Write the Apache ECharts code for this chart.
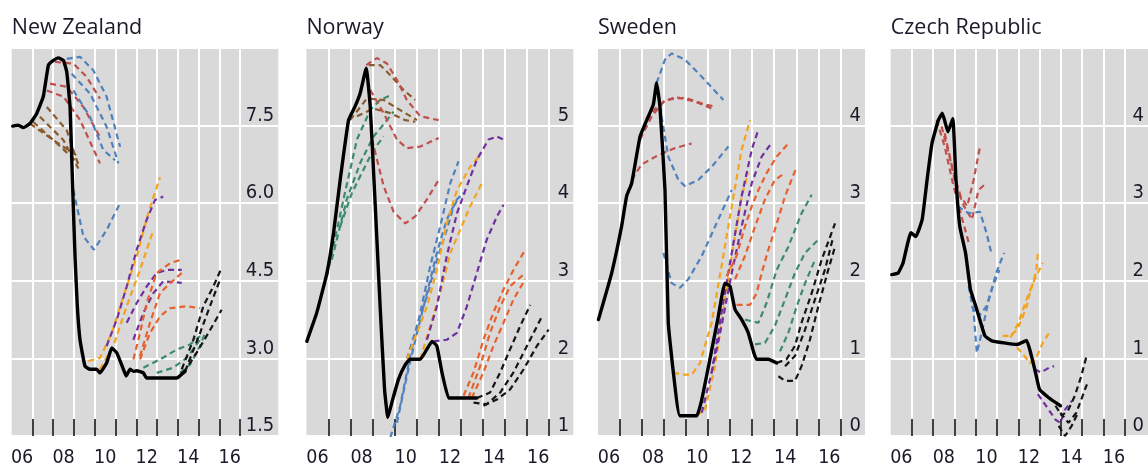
<!DOCTYPE html>
<html>
<head>
<meta charset="utf-8">
<script src="https://cdn.jsdelivr.net/npm/echarts@6/dist/echarts.min.js"></script>
<style>
  html, body { margin: 0; padding: 0; background: #ffffff; }
  #chart { width: 1148px; height: 468px; }
</style>
</head>
<body>
<div id="chart"></div>
<script>
// Policy rates (solid) and published rate-path forecasts (dashed), per cent.
// Every point is [year, rate].

// ---- x-axis ticks and labels (shared by all four panels)
const tickYears = [2007, 2008, 2009, 2010, 2011, 2012, 2013, 2014, 2015, 2016, 2017];
const labelYears = [2006.5, 2008.5, 2010.5, 2012.5, 2014.5, 2016.5];
const yearLabels = ['06', '08', '10', '12', '14', '16'];

// ---- New Zealand
const nzPolicy = [[2006.05,7.49],[2006.32,7.51],[2006.56,7.46],[2006.88,7.54],[2007.20,7.73],[2007.52,8.06],[2007.77,8.67],[2008.01,8.76],[2008.25,8.81],[2008.49,8.76],[2008.65,8.54],[2008.81,7.86],[2008.94,6.26],[2009.05,4.97],[2009.16,4.01],[2009.29,3.36],[2009.53,2.85],[2009.77,2.79],[2010.09,2.79],[2010.25,2.72],[2010.57,2.91],[2010.82,3.20],[2011.06,3.11],[2011.38,2.79],[2011.51,2.66],[2011.70,2.79],[2011.86,2.75],[2012.02,2.76],[2012.34,2.72],[2012.50,2.62],[2013.95,2.62],[2014.20,2.70],[2014.35,2.75]];
const nzBrown = [
  [[2006.88,7.54],[2008.01,7.22],[2009.21,6.90]],
  [[2007.04,7.57],[2008.17,7.16],[2009.21,6.77]],
  [[2007.36,7.67],[2008.49,7.22],[2009.21,6.67]],
  [[2007.69,7.86],[2008.65,7.41],[2009.21,6.74]]
];
const nzRed = [
  [[2008.09,8.73],[2008.97,8.70],[2009.61,8.44],[2010.25,8.02]],
  [[2007.85,8.31],[2008.65,8.25],[2009.45,7.86],[2010.25,7.28]],
  [[2007.69,8.18],[2008.49,8.06],[2009.29,7.61],[2010.25,6.77]]
];
const nzBlue = [
  [[2008.65,8.79],[2009.29,8.83],[2009.93,8.57],[2010.57,8.06],[2011.22,7.09]],
  [[2008.89,8.50],[2009.77,8.12],[2010.57,7.48],[2011.14,6.77]],
  [[2008.97,8.18],[2009.77,7.67],[2010.41,7.03],[2010.98,6.83]],
  [[2008.97,6.26],[2009.45,5.36],[2009.96,5.10],[2010.57,5.48],[2011.22,6.00]]
];
const nzGold = [
  [[2009.69,2.95],[2010.25,3.01],[2010.82,3.49],[2011.38,4.20],[2012.02,4.97],[2012.58,5.81],[2013.14,6.50]],
  [[2010.25,2.79],[2010.90,3.24],[2011.54,4.01],[2012.18,4.71],[2012.82,5.48]]
];
const nzPurple = [
  [[2010.57,3.24],[2011.06,3.75],[2011.54,4.39],[2012.02,5.10],[2012.50,5.68],[2012.90,6.06],[2013.30,6.13]],
  [[2011.54,3.69],[2012.02,4.07],[2012.50,4.39],[2012.98,4.65],[2013.46,4.71],[2014.19,4.71]],
  [[2011.86,3.36],[2012.34,3.88],[2012.82,4.26],[2013.30,4.49],[2014.19,4.46]]
];
const nzOrange = [
  [[2011.86,2.98],[2012.18,3.49],[2012.50,4.07],[2012.98,4.65],[2013.62,4.84],[2014.19,4.91]],
  [[2012.18,3.04],[2012.66,3.69],[2013.14,4.26],[2013.62,4.45],[2014.19,4.65]],
  [[2012.18,2.98],[2012.66,3.49],[2013.14,3.81],[2013.62,3.97],[2014.43,4.01],[2015.07,3.97]]
];
const nzGreen = [
  [[2012.34,2.82],[2013.14,2.98],[2013.95,3.17],[2014.59,3.27],[2015.07,3.43]],
  [[2012.98,2.72],[2013.78,2.82],[2014.43,3.01],[2015.07,3.36]],
  [[2014.11,2.72],[2014.59,2.88],[2015.07,3.24],[2015.31,3.49]]
];
const nzBlack = [
  [[2014.19,2.79],[2014.75,3.36],[2015.23,4.01],[2015.71,4.39],[2016.11,4.75]],
  [[2014.27,2.72],[2014.91,3.11],[2015.47,3.49],[2016.11,3.94]],
  [[2014.35,2.75],[2015.07,3.49],[2015.55,4.01],[2016.03,4.52]]
];

// ---- Norway
const noPolicy = [[2006.02,2.22],[2006.47,2.59],[2006.93,3.10],[2007.23,3.62],[2007.53,4.30],[2007.91,5.07],[2008.21,5.25],[2008.44,5.42],[2008.71,5.74],[2008.89,5.25],[2009.12,3.96],[2009.34,2.67],[2009.54,1.60],[2009.69,1.24],[2009.87,1.43],[2010.17,1.73],[2010.48,1.92],[2010.70,1.99],[2011.16,1.99],[2011.46,2.12],[2011.69,2.22],[2011.91,2.16],[2012.14,1.82],[2012.44,1.49],[2012.67,1.49],[2013.72,1.49]];
const noGreen = [
  [[2006.93,3.06],[2007.68,4.05],[2008.29,4.82],[2008.89,5.20],[2009.34,5.33],[2009.87,5.40]],
  [[2007.15,3.27],[2007.83,4.05],[2008.44,4.52],[2009.04,4.86],[2009.65,5.07],[2009.95,5.18]],
  [[2007.53,3.70],[2008.06,4.13],[2008.51,4.39],[2009.04,4.69],[2009.50,4.86]]
];
const noBrown = [
  [[2007.98,5.07],[2008.74,5.35],[2009.50,5.33],[2010.25,5.20],[2011.01,5.07]],
  [[2008.82,5.78],[2009.34,5.78],[2009.80,5.65],[2010.40,5.46],[2010.93,5.33]],
  [[2008.29,5.12],[2009.04,5.22],[2009.80,5.16],[2010.48,5.07],[2010.93,5.05]]
];
const noRed = [
  [[2008.71,5.78],[2009.19,5.87],[2009.65,5.80],[2010.10,5.59],[2010.55,5.33],[2011.16,5.12],[2011.99,5.07]],
  [[2008.89,5.46],[2009.50,5.16],[2010.10,4.82],[2010.55,4.71],[2011.16,4.73],[2011.99,4.84]],
  [[2008.97,4.82],[2009.50,4.22],[2009.95,3.89],[2010.48,3.74],[2010.93,3.83],[2011.46,4.05],[2011.99,4.30]]
];
const noBlue = [
  [[2009.80,0.98],[2010.25,1.39],[2010.70,2.03],[2011.16,2.59],[2011.61,3.19],[2012.06,3.70],[2012.52,4.26],[2012.89,4.54]],
  [[2010.10,1.17],[2010.55,1.77],[2011.01,2.33],[2011.46,2.84],[2011.91,3.36],[2012.36,3.79],[2012.82,4.05],[2013.12,4.13]],
  [[2010.55,1.99],[2011.01,2.42],[2011.46,2.80],[2011.91,3.27],[2012.36,3.66],[2012.67,3.96],[2012.97,4.09]]
];
const noGold = [
  [[2010.55,1.99],[2011.01,2.33],[2011.46,2.67],[2011.91,3.14],[2012.36,3.74],[2012.82,4.17],[2013.42,4.47],[2013.87,4.62]],
  [[2011.16,1.99],[2011.61,2.42],[2012.06,2.84],[2012.52,3.36],[2012.97,3.66],[2013.42,3.96],[2013.95,4.26]]
];
const noPurple = [
  [[2011.46,2.24],[2011.91,2.67],[2012.36,3.32],[2012.82,3.87],[2013.27,4.22],[2013.72,4.56],[2014.25,4.82],[2014.63,4.86],[2014.93,4.82]],
  [[2011.76,2.22],[2012.36,2.24],[2012.82,2.33],[2013.27,2.67],[2013.72,3.10],[2014.17,3.53],[2014.63,3.83],[2014.93,3.98]]
];
const noOrange = [
  [[2013.12,1.52],[2013.57,1.82],[2014.02,2.24],[2014.47,2.59],[2014.93,2.89],[2015.38,3.14],[2015.91,3.40]],
  [[2013.34,1.49],[2013.87,1.90],[2014.32,2.33],[2014.78,2.67],[2015.23,2.93],[2015.91,3.10]],
  [[2013.49,1.49],[2014.02,1.82],[2014.47,2.16],[2014.93,2.46],[2015.38,2.76],[2015.91,3.02]]
];
const noBlack = [
  [[2013.72,1.49],[2014.32,1.56],[2014.78,1.82],[2015.23,2.12],[2015.69,2.42],[2016.14,2.69]],
  [[2013.57,1.43],[2014.17,1.41],[2014.78,1.56],[2015.38,1.82],[2015.99,2.16],[2016.67,2.54]],
  [[2014.02,1.39],[2014.63,1.47],[2015.23,1.60],[2015.84,1.86],[2016.44,2.16],[2016.97,2.37]]
];

// ---- Sweden
const sePolicy = [[2006.02,1.50],[2006.62,2.10],[2007.07,2.70],[2007.30,3.09],[2007.53,3.26],[2007.91,3.86],[2008.21,4.07],[2008.51,4.27],[2008.66,4.55],[2008.81,4.25],[2009.04,3.17],[2009.19,1.46],[2009.42,0.82],[2009.72,0.26],[2010.48,0.26],[2010.71,0.47],[2011.08,0.99],[2011.46,1.54],[2011.76,1.97],[2011.99,1.93],[2012.22,1.63],[2012.52,1.50],[2012.82,1.33],[2013.20,0.99],[2013.73,0.99],[2014.11,0.94]];
const seRed = [
  [[2007.91,3.82],[2008.44,4.12],[2009.04,4.33],[2009.95,4.36],[2010.86,4.27],[2011.24,4.25]],
  [[2008.21,4.07],[2008.74,4.27],[2009.50,4.37],[2010.40,4.31],[2011.16,4.22]],
  [[2007.53,3.30],[2007.98,3.50],[2008.74,3.62],[2009.50,3.71],[2010.25,3.77]]
];
const seBlue = [
  [[2008.66,4.55],[2009.04,4.85],[2009.34,4.93],[2009.95,4.85],[2010.71,4.63],[2011.69,4.33]],
  [[2008.81,4.25],[2009.19,3.60],[2009.65,3.30],[2009.95,3.22],[2010.55,3.30],[2011.16,3.47],[2011.92,3.73]],
  [[2008.97,2.36],[2009.34,1.97],[2009.72,1.91],[2010.10,2.02],[2010.71,2.32],[2011.46,2.79],[2012.07,3.17]]
];
const seGold = [
  [[2009.42,0.82],[2009.80,0.79],[2010.25,0.79],[2010.63,0.94],[2011.16,1.46],[2011.61,2.19],[2012.07,2.96],[2012.52,3.69],[2012.90,4.07]],
  [[2010.46,0.26],[2010.86,0.34],[2011.31,0.90],[2011.76,1.76],[2012.14,2.44],[2012.52,3.09],[2012.82,3.39]]
];
const sePurple = [
  [[2010.71,0.30],[2011.16,0.82],[2011.61,1.59],[2012.07,2.36],[2012.52,3.09],[2012.98,3.69],[2013.28,3.95]],
  [[2011.16,0.82],[2011.61,1.42],[2012.07,2.10],[2012.52,2.70],[2012.98,3.26],[2013.43,3.60],[2013.81,3.75]]
];
const seOrange = [
  [[2011.84,2.06],[2012.29,2.32],[2012.67,2.70],[2012.98,2.96],[2013.28,3.17],[2013.66,3.39],[2014.11,3.60],[2014.64,3.77]],
  [[2012.22,2.02],[2012.67,2.32],[2013.13,2.70],[2013.58,3.05],[2014.03,3.30],[2014.49,3.39]],
  [[2012.29,1.69],[2012.90,1.69],[2013.20,1.84],[2013.43,2.10],[2013.73,2.40],[2014.03,2.66],[2014.49,3.09],[2015.02,3.47]]
];
const seGreen = [
  [[2012.67,1.50],[2013.28,1.46],[2013.66,1.72],[2014.11,2.14],[2014.64,2.44],[2015.24,2.87],[2015.70,3.11]],
  [[2013.13,1.18],[2013.58,1.20],[2014.03,1.42],[2014.49,1.76],[2014.94,2.10],[2015.40,2.36],[2016.00,2.53]],
  [[2014.26,1.09],[2014.64,1.33],[2015.02,1.67],[2015.40,1.97],[2015.85,2.27]]
];
const seBlack = [
  [[2014.11,0.94],[2014.56,0.99],[2014.94,1.16],[2015.24,1.46],[2015.70,1.84],[2016.15,2.27],[2016.76,2.74]],
  [[2014.19,0.77],[2014.49,0.71],[2014.94,0.71],[2015.24,0.90],[2015.62,1.24],[2016.00,1.67],[2016.45,2.14],[2016.76,2.44]],
  [[2014.49,0.90],[2014.94,1.03],[2015.40,1.37],[2015.85,1.76],[2016.30,2.14],[2016.68,2.57]]
];

// ---- Czech Republic
const czPolicy = [[2006.05,2.08],[2006.35,2.10],[2006.58,2.23],[2006.95,2.62],[2007.18,2.57],[2007.48,2.79],[2007.71,3.30],[2007.94,3.77],[2008.24,4.07],[2008.43,4.16],[2008.69,3.92],[2008.92,4.09],[2009.07,3.30],[2009.25,2.70],[2009.52,2.36],[2009.75,1.89],[2010.05,1.63],[2010.43,1.29],[2010.73,1.23],[2011.33,1.20],[2011.94,1.18],[2012.39,1.23],[2012.62,1.03],[2012.85,0.77],[2013.00,0.60],[2013.45,0.49],[2013.98,0.39]];
const czRed = [
  [[2008.16,4.07],[2008.54,3.73],[2008.92,3.26],[2009.29,2.87],[2009.67,2.49]],
  [[2008.39,3.99],[2008.77,3.60],[2009.07,3.22],[2009.45,2.96],[2009.82,2.79],[2010.13,3.17],[2010.50,3.26]],
  [[2008.54,3.90],[2008.92,3.43],[2009.29,3.09],[2009.60,2.96],[2009.90,3.30],[2010.20,3.73]]
];
const czBlue = [
  [[2009.14,2.96],[2009.67,2.87],[2010.20,2.89],[2010.50,2.62],[2010.73,2.36]],
  [[2009.67,1.93],[2009.90,1.59],[2010.05,1.07],[2010.28,1.33],[2010.58,1.72],[2010.96,2.10],[2011.33,2.36]],
  [[2009.82,1.67],[2010.13,1.54],[2010.50,1.67],[2010.80,1.93],[2011.11,2.14]]
];
const czGold = [
  [[2011.26,1.29],[2011.64,1.29],[2011.94,1.37],[2012.16,1.50],[2012.39,1.67],[2012.54,1.84],[2012.69,1.97],[2012.85,2.14],[2012.92,2.36]],
  [[2011.64,1.27],[2012.01,1.46],[2012.39,1.76],[2012.77,2.02],[2013.15,2.23]],
  [[2011.94,1.14],[2012.24,1.05],[2012.54,0.94],[2012.85,1.01],[2013.15,1.20],[2013.45,1.33]]
];
const czPurple = [
  [[2012.77,0.86],[2013.07,0.82],[2013.45,0.88],[2013.68,0.90]],
  [[2012.92,0.54],[2013.30,0.39],[2013.75,0.21],[2013.98,0.17],[2014.20,0.34],[2014.51,0.45]]
];
const czBlack = [
  [[2013.75,0.39],[2014.05,0.26],[2014.36,0.34],[2014.66,0.52],[2014.96,0.77],[2015.19,1.01]],
  [[2013.98,0.30],[2014.36,0.17],[2014.73,0.30],[2015.03,0.52],[2015.26,0.69]],
  [[2013.90,0.13],[2014.20,0.00],[2014.51,0.13],[2014.81,0.30]]
];

// ---- styling
const palette = {
  brown: '#8a5a2c', red: '#c0504d', blue: '#4f81bd', gold: '#f5a21c',
  purple: '#7030a0', orange: '#e8612c', green: '#3c8c6c', black: '#151515'
};
const labelFont = "'Liberation Sans Narrow', 'DejaVu Sans Condensed', 'Liberation Sans', sans-serif";
const titleFont = "'Open Sans', 'Noto Sans', 'Liberation Sans', sans-serif";
const textColor = '#1a1a28';

const panels = [
  { name: 'New Zealand', left: 11.7, width: 266.6, xMax: 2018.84, yMin: 1.5, yMax: 9, yStep: 1.5, digits: 1,
    policy: nzPolicy,
    paths: [['brown', nzBrown], ['red', nzRed], ['blue', nzBlue], ['gold', nzGold], ['purple', nzPurple], ['orange', nzOrange], ['green', nzGreen], ['black', nzBlack]] },
  { name: 'Norway', left: 306.4, width: 266.9, xMax: 2018.09, yMin: 1, yMax: 6, yStep: 1, digits: 0,
    policy: noPolicy,
    paths: [['green', noGreen], ['brown', noBrown], ['red', noRed], ['blue', noBlue], ['gold', noGold], ['purple', noPurple], ['orange', noOrange], ['black', noBlack]] },
  { name: 'Sweden', left: 598, width: 267, xMax: 2018.12, yMin: 0, yMax: 5, yStep: 1, digits: 0,
    policy: sePolicy,
    paths: [['red', seRed], ['blue', seBlue], ['gold', seGold], ['purple', sePurple], ['orange', seOrange], ['green', seGreen], ['black', seBlack]] },
  { name: 'Czech Republic', left: 890.7, width: 267, xMax: 2018.1, yMin: 0, yMax: 5, yStep: 1, digits: 0,
    policy: czPolicy,
    paths: [['red', czRed], ['blue', czBlue], ['gold', czGold], ['purple', czPurple], ['black', czBlack]] }
];

const grid = [], xAxis = [], yAxis = [], title = [], series = [];

panels.forEach((p, i) => {
  grid.push({
    left: p.left, top: 48, width: p.width, height: 389,
    show: true, backgroundColor: '#d9d9d9', borderWidth: 0
  });
  title.push({
    text: p.name, left: p.left, top: 17, padding: 0,
    textStyle: { fontFamily: titleFont, fontSize: 21.5, fontWeight: 'normal', color: textColor }
  });
  xAxis.push({
    type: 'value', gridIndex: i, min: 2006, max: p.xMax,
    axisLine: { show: false },
    axisTick: { show: true, inside: true, length: 17, customValues: tickYears,
                lineStyle: { color: '#111111', width: 1.6 } },
    splitLine: { show: true, lineStyle: { color: '#ffffff', width: 2 } },
    axisLabel: {
      customValues: labelYears, margin: 12,
      formatter: v => yearLabels[labelYears.indexOf(v)] || '',
      fontFamily: labelFont, fontSize: 19.5, color: textColor
    }
  });
  yAxis.push({
    type: 'value', gridIndex: i, position: 'right',
    min: p.yMin, max: p.yMax, interval: p.yStep,
    axisLine: { show: false }, axisTick: { show: false },
    splitLine: { show: true, lineStyle: { color: '#ffffff', width: 2 } },
    axisLabel: {
      inside: true, margin: 4, verticalAlign: 'bottom', showMaxLabel: false, showMinLabel: true,
      formatter: v => v.toFixed(p.digits),
      fontFamily: labelFont, fontSize: 20, color: textColor
    }
  });
  p.paths.forEach(([colorKey, lines]) => {
    lines.forEach(line => {
      series.push({
        type: 'line', xAxisIndex: i, yAxisIndex: i, data: line,
        showSymbol: false, symbol: 'none', silent: true, z: 3,
        lineStyle: { color: palette[colorKey], width: 2.2, type: [6, 4] }
      });
    });
  });
  series.push({
    type: 'line', xAxisIndex: i, yAxisIndex: i, data: p.policy,
    showSymbol: false, symbol: 'none', silent: true, z: 5, smooth: 0.12,
    lineStyle: { color: '#000000', width: 3.4, cap: 'round', join: 'round' }
  });
});

const chart = echarts.init(document.getElementById('chart'), null, { renderer: 'canvas' });
chart.setOption({
  animation: false,
  backgroundColor: '#ffffff',
  title, grid, xAxis, yAxis, series
});
</script>
</body>
</html>
